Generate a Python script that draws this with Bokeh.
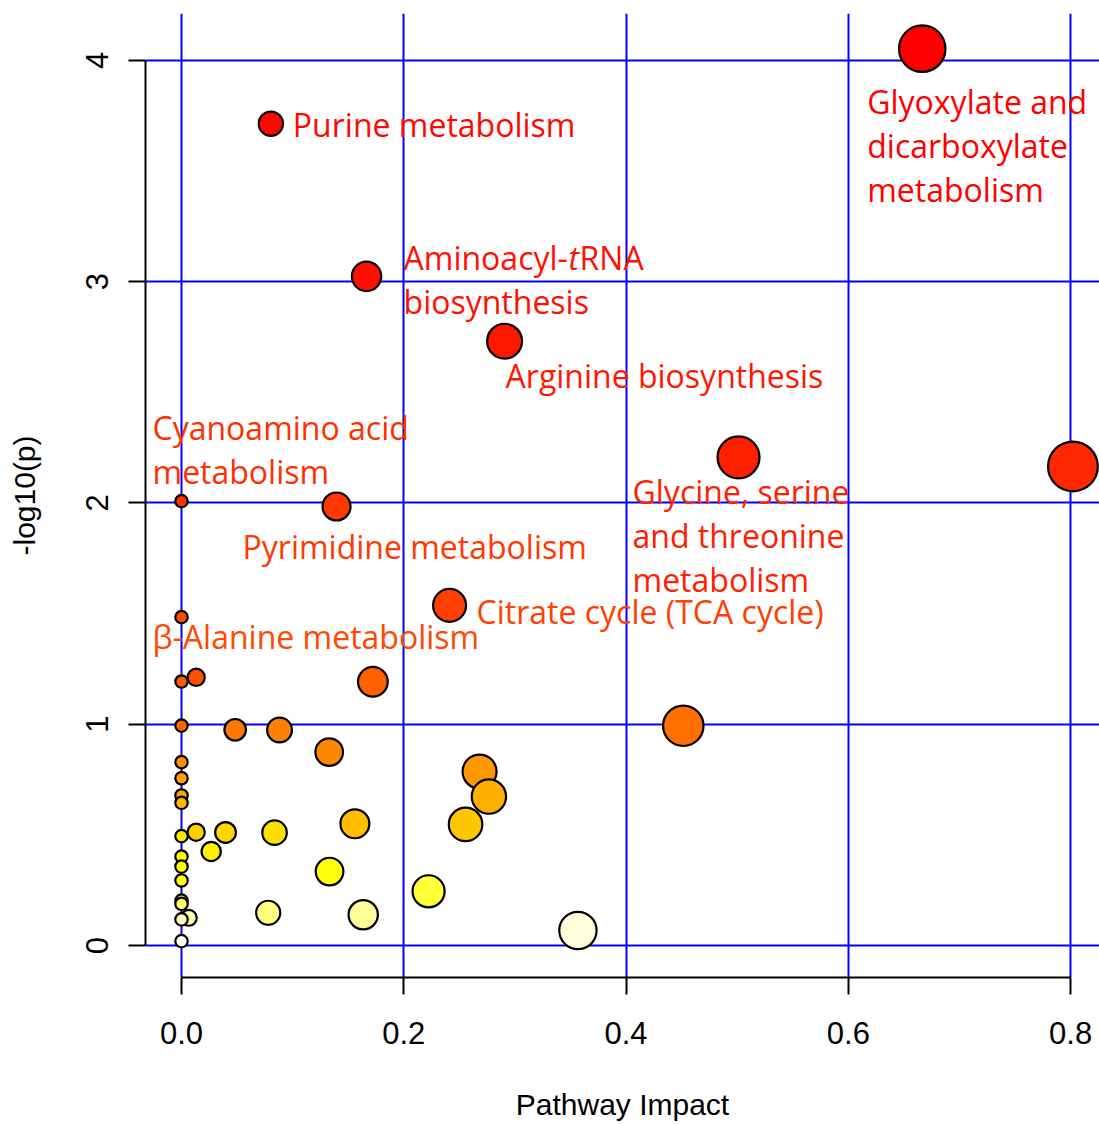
import colorsys
import numpy as np
from bokeh.plotting import figure
from bokeh.models import ColumnDataSource, Range1d, FixedTicker, PrintfTickFormatter
from bokeh.core.properties import value
from bokeh.embed import file_html
from bokeh.resources import INLINE

# Pathway analysis results: impact (x) and -log10(p) (y)
impact = [0.6665, 0.0804, 0.1665, 0.2907, 0.5012, 0.8021, 0.0, 0.1395, 0.2412, 0.0,
          0.0132, 0.0, 0.1722, 0.0, 0.0483, 0.0882, 0.4515, 0.1329, 0.0, 0.2682,
          0.0, 0.2766, 0.0, 0.0, 0.1560, 0.2556, 0.0132, 0.0396, 0.0837, 0.0,
          0.0267, 0.0, 0.0, 0.1332, 0.0, 0.2223, 0.0, 0.0, 0.0780, 0.1635,
          0.0, 0.0066, 0.3567, 0.0]
neglog_p = [4.053, 3.714, 3.024, 2.731, 2.206, 2.165, 2.008, 1.984, 1.537, 1.484,
            1.212, 1.193, 1.192, 0.994, 0.975, 0.974, 0.993, 0.874, 0.829, 0.786,
            0.756, 0.673, 0.678, 0.645, 0.550, 0.547, 0.512, 0.511, 0.510, 0.494,
            0.425, 0.402, 0.357, 0.334, 0.294, 0.245, 0.203, 0.188, 0.148, 0.139,
            0.118, 0.125, 0.068, 0.020]

x_ticks = [0.0, 0.2, 0.4, 0.6, 0.8]
y_ticks = [0, 1, 2, 3, 4]

# Annotated pathways: (index into the arrays above, text lines)
labelled = [
    (0, ["Glyoxylate and", "dicarboxylate", "metabolism"]),
    (1, ["Purine metabolism"]),
    (2, ["Aminoacyl-tRNA", "biosynthesis"]),
    (3, ["Arginine biosynthesis"]),
    (4, ["Glycine, serine", "and threonine", "metabolism"]),
    (6, ["Cyanoamino acid", "metabolism"]),
    (7, ["Pyrimidine metabolism"]),
    (8, ["Citrate cycle (TCA cycle)"]),
    (9, ["\u03b2-Alanine metabolism"]),
]
# label placement relative to its circle, screen pixels (left edge, first baseline)
label_offsets = {0: (-55, 53), 1: (22, 1), 2: (37, -19), 3: (1, 34), 4: (-106, 34),
                 6: (-29, -74), 7: (-94, 40), 8: (27, 6), 9: (-29, 19)}
LINE_STEP = 44


def heat_colors(n):
    """R's heat.colors palette."""
    j = n // 4
    i = n - j
    out = []
    for k in range(i):
        h = (k / (i - 1)) * (1 / 6) if i > 1 else 0.0
        r, g, b = colorsys.hsv_to_rgb(h, 1.0, 1.0)
        out.append("#%02X%02X%02X" % (round(r * 255), round(g * 255), round(b * 255)))
    if j > 0:
        s_vals = np.linspace(1 - 1 / (2 * j), 1 / (2 * j), j)
        for s in s_vals:
            r, g, b = colorsys.hsv_to_rgb(1 / 6, s, 1.0)
            out.append("#%02X%02X%02X" % (round(r * 255), round(g * 255), round(b * 255)))
    return out


x = np.array(impact)
y = np.array(neglog_p)
order = np.argsort(-y, kind="stable")
palette = heat_colors(len(y))
fill = [None] * len(y)
for rank, idx in enumerate(order):
    fill[idx] = palette[rank]

# circle radius in impact units, scaled on sqrt(impact)
sqx = np.sqrt(x)
span = sqx.max() - sqx.min()
min_r, max_r = span / 160, span / 40
radius = min_r + (max_r - min_r) * (sqx - sqx.min()) / span

src = ColumnDataSource(dict(x=x[order], y=y[order], r=radius[order],
                            c=[fill[i] for i in order]))

p = figure(width=1099, height=1124,
           x_range=Range1d(-0.0324, 0.826), y_range=Range1d(-0.1446, 4.212),
           output_backend="svg", toolbar_location=None,
           min_border_left=145, min_border_right=0, min_border_top=13,
           min_border_bottom=147)
p.outline_line_color = None
p.background_fill_color = "white"
p.border_fill_color = "white"

for grid in (p.xgrid, p.ygrid):
    grid.grid_line_color = "#0000FF"
    grid.grid_line_width = 2
    grid.grid_line_alpha = 1.0

p.xaxis.ticker = FixedTicker(ticks=x_ticks)
p.yaxis.ticker = FixedTicker(ticks=y_ticks)
p.xaxis.formatter = PrintfTickFormatter(format="%.1f")
p.xaxis.bounds = (min(x_ticks), max(x_ticks))
p.yaxis.bounds = (min(y_ticks), max(y_ticks))
p.xaxis.axis_label = "Pathway Impact"
p.yaxis.axis_label = "-log10(p)"
p.yaxis.major_label_orientation = "vertical"
for ax in (p.xaxis, p.yaxis):
    ax.axis_line_width = 2
    ax.axis_line_color = "black"
    ax.major_tick_line_width = 2
    ax.major_tick_line_color = "black"
    ax.major_tick_out = 17
    ax.major_tick_in = 0
    ax.minor_tick_line_color = None
    ax.major_label_text_font = "Liberation Sans"
    ax.major_label_text_font_size = "31px"
    ax.major_label_text_color = "black"
    ax.axis_label_text_font = "Liberation Sans"
    ax.axis_label_text_font_size = "30px"
    ax.axis_label_text_font_style = "normal"
    ax.axis_label_text_color = "black"
p.xaxis.major_label_standoff = 27
p.xaxis.axis_label_standoff = 41
p.yaxis.major_label_standoff = 20
p.yaxis.axis_label_standoff = 43

p.circle(x="x", y="y", radius="r", source=src, fill_color="c",
         line_color="black", line_width=2.2)

font = value("Open Sans")
for idx, lines in labelled:
    dx, dy = label_offsets[idx]
    col = fill[idx]
    for k, line in enumerate(lines):
        yoff = dy + k * LINE_STEP
        if "-tRNA" in line:
            # italic "t" in tRNA
            pieces = [("Aminoacyl-", "normal", 0), ("t", "italic", 165), ("RNA", "normal", 176)]
            for txt, style, extra in pieces:
                p.text(x=[x[idx]], y=[y[idx]], text=[txt], x_offset=dx + extra, y_offset=yoff,
                       text_font=font, text_font_size="32px", text_font_style=style,
                       text_color=col, text_align="left", text_baseline="alphabetic")
        else:
            p.text(x=[x[idx]], y=[y[idx]], text=[line], x_offset=dx, y_offset=yoff,
                   text_font=font, text_font_size="32px", text_color=col,
                   text_align="left", text_baseline="alphabetic")

open("out.html", "w").write(file_html(p, INLINE))
